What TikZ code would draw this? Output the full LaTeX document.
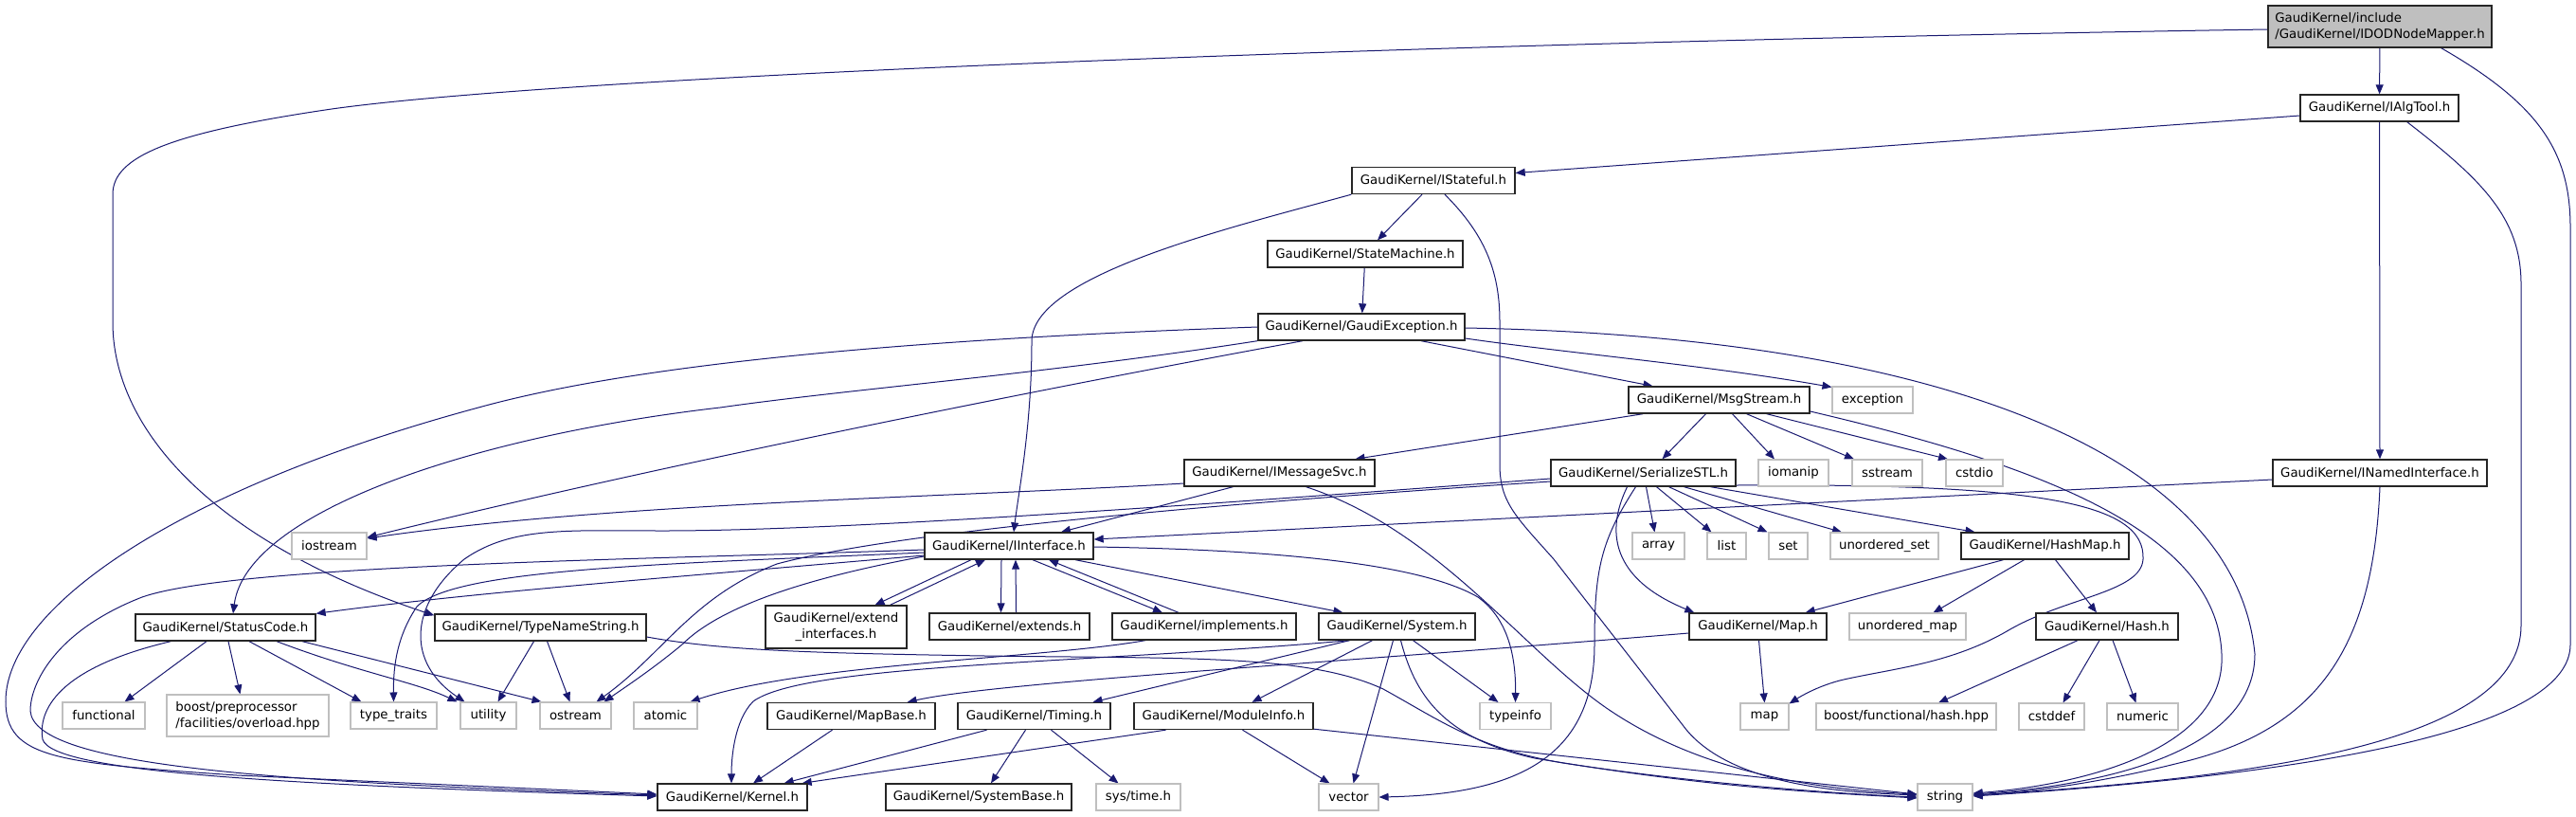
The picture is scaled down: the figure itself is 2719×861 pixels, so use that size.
\documentclass[tikz,border=0pt]{standalone}
\usepackage{fontspec}
\setmainfont{DejaVu Sans}
\usetikzlibrary{arrows.meta,calc}
\definecolor{edgeblue}{HTML}{191970}
\definecolor{greyseven}{HTML}{BFBFBF}
\pgfdeclarelayer{bg}
\pgfsetlayers{bg,main}
\begin{document}
\begin{tikzpicture}[x=0.75pt,y=-0.75pt,
  box/.style={draw=black!85, line width=1pt, fill=white, inner sep=0pt, minimum height=21pt,
    font=\fontsize{10pt}{12.5pt}\selectfont, text=black},
  ext/.style={box, draw=greyseven, line width=0.8pt},
  rootbox/.style={box, fill=greyseven},
  bw/.style={minimum width={#1*0.75pt}},
  two/.style={minimum height=33pt, align=left},
  dep/.style={draw=edgeblue, line width=0.75pt, -{Triangle[length=7.5pt,width=6pt]}},
]
\useasboundingbox (0,0) rectangle (2719,861);
% ---------- nodes ----------
\node[rootbox,two,bw=236] (root) at (2512,28) {GaudiKernel/include\\/GaudiKernel/IDODNodeMapper.h};
\node[box,bw=167] (ialgtool) at (2511.5,114) {GaudiKernel/IAlgTool.h};
\node[box,bw=172] (istateful) at (1513,190.5) {GaudiKernel/IStateful.h};
\node[box,bw=206] (statemachine) at (1441,268) {GaudiKernel/StateMachine.h};
\node[box,bw=218] (gexc) at (1437,345) {GaudiKernel/GaudiException.h};
\node[box,bw=191] (msgstream) at (1814.5,422) {GaudiKernel/MsgStream.h};
\node[ext,bw=85] (exception) at (1976.5,422) {exception};
\node[box,bw=201] (imessagesvc) at (1350.5,499) {GaudiKernel/IMessageSvc.h};
\node[box,bw=195] (serializestl) at (1734.5,499) {GaudiKernel/SerializeSTL.h};
\node[ext,bw=74] (iomanip) at (1893,499) {iomanip};
\node[ext,bw=74] (sstream) at (1992,499) {sstream};
\node[ext,bw=60] (cstdio) at (2084,499) {cstdio};
\node[box,bw=226] (inamed) at (2512,499) {GaudiKernel/INamedInterface.h};
\node[ext,bw=79] (iostream) at (347.5,576) {iostream};
\node[box,bw=178] (iinterface) at (1065,576) {GaudiKernel/IInterface.h};
\node[ext,bw=55] (array) at (1750.5,576) {array};
\node[ext,bw=41] (list) at (1822.5,576) {list};
\node[ext,bw=41] (set) at (1887.5,576) {set};
\node[ext,bw=114] (uset) at (1989,576) {unordered\_set};
\node[box,bw=177] (hashmap) at (2158.5,576) {GaudiKernel/HashMap.h};
\node[box,bw=190] (statuscode) at (238,662) {GaudiKernel/StatusCode.h};
\node[box,bw=223] (typename) at (570.5,662) {GaudiKernel/TypeNameString.h};
\node[box,bw=149,minimum height=33.75pt,align=center] (extendif) at (882.5,661.5) {GaudiKernel/extend\\\_interfaces.h};
\node[box,bw=169] (extends) at (1065.5,661) {GaudiKernel/extends.h};
\node[box,bw=194] (implements) at (1271,661) {GaudiKernel/implements.h};
\node[box,bw=165] (system) at (1474.5,661) {GaudiKernel/System.h};
\node[box,bw=145] (maph) at (1855.5,661) {GaudiKernel/Map.h};
\node[ext,bw=123] (umap) at (2013.5,661) {unordered\_map};
\node[box,bw=150] (hash) at (2224,661) {GaudiKernel/Hash.h};
\node[ext,bw=87] (functional) at (109.5,755) {functional};
\node[ext,two,bw=171] (boostpp) at (261.5,755) {boost/preprocessor\\/facilities/overload.hpp};
\node[ext,bw=91] (typetraits) at (415.5,755) {type\_traits};
\node[ext,bw=59] (utility) at (515.5,755) {utility};
\node[ext,bw=75] (ostream) at (607.5,755) {ostream};
\node[ext,bw=67] (atomic) at (702.5,755) {atomic};
\node[box,bw=177] (mapbase) at (898.5,755.5) {GaudiKernel/MapBase.h};
\node[box,bw=161] (timing) at (1091.5,755.5) {GaudiKernel/Timing.h};
\node[box,bw=189] (moduleinfo) at (1291.5,755.5) {GaudiKernel/ModuleInfo.h};
\node[ext,bw=75] (typeinfo) at (1599.5,755.5) {typeinfo};
\node[ext,bw=51] (map) at (1862.5,756) {map};
\node[ext,bw=190] (boosthash) at (2012,756) {boost/functional/hash.hpp};
\node[ext,bw=69] (cstddef) at (2165.5,756) {cstddef};
\node[ext,bw=75] (numeric) at (2261.5,756) {numeric};
\node[box,bw=158] (kernel) at (773,841) {GaudiKernel/Kernel.h};
\node[box,bw=196] (systembase) at (1033,841) {GaudiKernel/SystemBase.h};
\node[ext,bw=89] (systime) at (1201.5,841) {sys/time.h};
\node[ext,bw=63] (vector) at (1423.5,841) {vector};
\node[ext,bw=58] (string) at (2053,841) {string};
% ---------- edges ----------
\begin{pgfonlayer}{bg}
% root
\draw[dep] (root) -- (ialgtool);
\draw[dep] ($(root.west)+(0,3)$) .. controls (1500,45) and (600,80) .. (350,115) .. controls (180,140) and (119,165) .. (119,205) -- (119,340) .. controls (119,450) and (220,570) .. ($(typename.north west)+(0,2)$);
\draw[dep] ($(root.south east)+(-54,0)$) .. controls (2680,110) and (2713,160) .. (2713,240) -- (2713,680) .. controls (2713,750) and (2550,810) .. ($(string.east)+(0,-1)$);
% ialgtool
\draw[dep] ($(ialgtool.west)+(0,8)$) -- ($(istateful.east)+(0,-8)$);
\draw[dep] (ialgtool) -- (inamed);
\draw[dep] ($(ialgtool.south east)+(-55,0)$) .. controls (2620,190) and (2661,230) .. (2661,300) -- (2661,660) .. controls (2661,780) and (2400,820) .. ($(string.east)+(0,-2)$);
% istateful
\draw[dep] ($(istateful.south)+(-12,0)$) -- ($(statemachine.north)+(13,0)$);
\draw[dep] (istateful.south west) .. controls (1300,240) and (1089,290) .. (1089,360) .. controls (1089,450) and (1075,520) .. ($(iinterface.north)+(5,0)$);
\draw[dep] ($(istateful.south)+(12,0)$) .. controls (1570,250) and (1583,290) .. (1583,340) -- (1583,490) .. controls (1583,530) and (1600,545) .. (1640,590) -- (1780,770) .. controls (1830,830) and (1950,836) .. ($(string.west)+(0,-2)$);
% statemachine
\draw[dep] (statemachine) -- (gexc);
% gaudi exception
\draw[dep] ($(gexc.south)+(63,0)$) -- ($(msgstream.north)+(-70,0)$);
\draw[dep] ($(gexc.east)+(0,12)$) .. controls (1650,372) and (1800,385) .. ($(exception.north west)+(0,1)$);
\draw[dep] ($(gexc.east)+(0,1)$) .. controls (2050,355) and (2360,480) .. (2380,690) .. controls (2380,800) and (2200,830) .. ($(string.east)+(0,-3)$);
\draw[dep] (gexc.west) .. controls (900,360) and (650,390) .. (505,430) .. controls (190,515) and (6,640) .. (6,740) .. controls (6,800) and (60,805) .. (250,818) -- ($(kernel.west)+(0,-3)$);
\draw[dep] ($(gexc.south)+(-62,0)$) .. controls (1100,410) and (700,490) .. ($(iostream.east)+(0,-9)$);
\draw[dep] (gexc.south west) .. controls (1100,395) and (900,410) .. (760,430) .. controls (500,460) and (260,540) .. ($(statuscode.north)+(8,0)$);
% msgstream
\draw[dep] ($(msgstream.south west)+(16,0)$) -- ($(imessagesvc.north)+(80,0)$);
\draw[dep] ($(msgstream.south)+(-14,0)$) -- ($(serializestl.north)+(20,0)$);
\draw[dep] ($(msgstream.south)+(14,0)$) -- ($(iomanip.north)+(-20,0)$);
\draw[dep] ($(msgstream.south)+(29,0)$) -- ($(sstream.north)+(-35,0)$);
\draw[dep] ($(msgstream.south)+(50,0)$) -- ($(cstdio.north)+(-28,0)$);
\draw[dep] ($(msgstream.east)+(0,12)$) .. controls (2150,490) and (2340,560) .. (2345,690) .. controls (2350,790) and (2200,828) .. ($(string.east)+(0,-4)$);
% imessagesvc
\draw[dep] ($(imessagesvc.west)+(0,11)$) .. controls (1000,525) and (650,530) .. ($(iostream.east)+(0,-8)$);
\draw[dep] ($(imessagesvc.south)+(-49,0)$) -- ($(iinterface.north)+(55,0)$);
\draw[dep] ($(imessagesvc.south)+(28,0)$) .. controls (1520,560) and (1610,690) .. (1700,750) .. controls (1790,810) and (1900,832) .. ($(string.west)+(0,-3)$);
% serializestl
\draw[dep] ($(serializestl.south)+(3,0)$) -- ($(array.north)+(-4,0)$);
\draw[dep] ($(serializestl.south)+(14,0)$) -- ($(list.north)+(-16,0)$);
\draw[dep] ($(serializestl.south)+(27,0)$) -- ($(set.north)+(-22,0)$);
\draw[dep] ($(serializestl.south)+(43,0)$) -- ($(uset.north)+(-45,0)$);
\draw[dep] ($(serializestl.south)+(71,0)$) -- ($(hashmap.north)+(-74,0)$);
\draw[dep] ($(serializestl.east)+(0,13)$) .. controls (2150,510) and (2265,530) .. (2262,590) .. controls (2260,625) and (2180,630) .. (2120,665) .. controls (2060,700) and (2000,705) .. (1946,717) .. controls (1920,723) and (1900,735) .. ($(map.north east)+(0,1)$);
\draw[dep] ($(serializestl.south)+(-17,0)$) .. controls (1695,560) and (1700,610) .. ($(maph.north west)+(6,0)$);
\draw[dep] ($(serializestl.south)+(-8,0)$) .. controls (1690,570) and (1683,600) .. (1683,680) .. controls (1683,800) and (1600,838) .. (vector.east);
\draw[dep] ($(serializestl.west)+(0,9)$) .. controls (1300,530) and (950,560) .. (820,595) .. controls (730,630) and (700,690) .. ($(ostream.north)+(22,0)$);
\draw[dep] ($(serializestl.west)+(0,6)$) .. controls (1300,530) and (900,560) .. (700,560) .. controls (600,560) and (540,555) .. (490,590) .. controls (430,640) and (430,700) .. ($(utility.north)+(-25,0)$);
% iinterface
\draw[dep] ($(iinterface.west)+(0,4)$) .. controls (700,590) and (250,595) .. (150,630) .. controls (60,665) and (32,720) .. (32,750) .. controls (36,810) and (300,825) .. ($(kernel.west)+(0,-2)$);
\draw[dep] ($(iinterface.west)+(0,10)$) .. controls (700,610) and (500,625) .. (statuscode.north east);
\draw[dep] ($(iinterface.west)+(0,7)$) .. controls (700,595) and (480,600) .. (440,640) .. controls (420,670) and (415,700) .. (typetraits.north);
\draw[dep] ($(iinterface.west)+(0,11)$) .. controls (850,610) and (760,640) .. (720,680) .. controls (690,705) and (660,725) .. ($(ostream.north)+(30,0)$);
\draw[dep] ($(iinterface.south)+(-40,0)$) -- ($(extendif.north)+(41,0)$);
\draw[dep] ($(extendif.north)+(57,0)$) -- ($(iinterface.south)+(-25,0)$);
\draw[dep] ($(iinterface.south)+(-8,0)$) -- ($(extends.north)+(-9,0)$);
\draw[dep] ($(extends.north)+(7,0)$) -- ($(iinterface.south)+(7,0)$);
\draw[dep] ($(iinterface.south)+(25,0)$) -- ($(implements.north)+(-44,0)$);
\draw[dep] ($(implements.north)+(-27,0)$) -- ($(iinterface.south)+(42,0)$);
\draw[dep] ($(iinterface.south)+(70,0)$) -- ($(system.north)+(-57,0)$);
\draw[dep] ($(iinterface.east)+(0,1)$) .. controls (1350,580) and (1500,595) .. (1560,630) .. controls (1595,655) and (1600,700) .. (typeinfo.north);
% inamed
\draw[dep] ($(inamed.west)+(0,7)$) -- ($(iinterface.east)+(0,-7)$);
\draw[dep] (inamed.south) .. controls (2505,680) and (2450,770) .. (2300,805) .. controls (2220,825) and (2150,835) .. ($(string.east)+(0,-2)$);
% hashmap, hash, map
\draw[dep] ($(hashmap.south)+(-44,0)$) -- ($(maph.north east)+(-23,0)$);
\draw[dep] ($(hashmap.south)+(-22,0)$) -- ($(umap.north)+(27,0)$);
\draw[dep] ($(hashmap.south)+(11,0)$) -- ($(hash.north)+(-11,0)$);
\draw[dep] ($(hash.south)+(-31,0)$) -- ($(boosthash.north)+(34,0)$);
\draw[dep] ($(hash.south)+(-8,0)$) -- ($(cstddef.north)+(12,0)$);
\draw[dep] ($(hash.south)+(6,0)$) -- ($(numeric.north)+(-7,0)$);
\draw[dep] ($(maph.south)+(1,0)$) -- (map.north);
\draw[dep] ($(maph.west)+(0,7)$) .. controls (1400,700) and (1050,720) .. ($(mapbase.north east)+(-30,0)$);
% statuscode
\draw[dep] ($(statuscode.south)+(-20,0)$) -- ($(functional.north)+(22,0)$);
\draw[dep] ($(statuscode.south)+(3,0)$) -- ($(boostpp.north)+(-8,0)$);
\draw[dep] ($(statuscode.south)+(25,0)$) -- ($(typetraits.north)+(-34,0)$);
\draw[dep] ($(statuscode.south)+(54,0)$) .. controls (380,710) and (440,720) .. ($(utility.north)+(-33,0)$);
\draw[dep] ($(statuscode.south)+(81,0)$) -- ($(ostream.north)+(-36,0)$);
\draw[dep] ($(statuscode.south west)+(38,0)$) .. controls (60,705) and (40,750) .. (45,780) .. controls (55,815) and (300,828) .. ($(kernel.west)+(0,-1)$);
% typenamestring
\draw[dep] ($(typename.south)+(-7,0)$) -- ($(utility.north)+(10,0)$);
\draw[dep] ($(typename.south)+(7,0)$) -- ($(ostream.north)+(-6,0)$);
\draw[dep] ($(typename.east)+(0,10)$) .. controls (760,686) and (850,689) .. (1040,692) .. controls (1250,695) and (1380,690) .. (1460,727) .. controls (1520,760) and (1560,790) .. (1650,805) .. controls (1800,828) and (1950,838) .. (string.west);
% implements
\draw[dep] ($(implements.south)+(-62,0)$) .. controls (1100,695) and (850,700) .. ($(atomic.north east)+(-8,0)$);
% system
\draw[dep] ($(system.south)+(-50,0)$) .. controls (1150,700) and (850,700) .. (795,740) .. controls (775,760) and (772,800) .. ($(kernel.north)+(-1,0)$);
\draw[dep] ($(system.south)+(-50,0)$) -- ($(timing.north)+(62,0)$);
\draw[dep] ($(system.south)+(-26,0)$) -- ($(moduleinfo.north)+(30,0)$);
\draw[dep] ($(system.south)+(-4,0)$) -- ($(vector.north)+(5,0)$);
\draw[dep] ($(system.south)+(17,0)$) -- ($(typeinfo.north)+(-18,0)$);
\draw[dep] ($(system.south)+(4,0)$) .. controls (1495,740) and (1530,780) .. (1620,800) .. controls (1800,830) and (1900,835) .. ($(string.west)+(0,1)$);
% moduleinfo
\draw[dep] ($(moduleinfo.south)+(20,0)$) -- ($(vector.north)+(-20,0)$);
\draw[dep] ($(moduleinfo.south east)+(0,-1)$) -- ($(string.west)+(0,-3)$);
\draw[dep] ($(moduleinfo.south)+(-61,0)$) -- ($(kernel.north east)+(-6,0)$);
% timing
\draw[dep] ($(timing.south)+(-50,0)$) -- ($(kernel.north east)+(-25,0)$);
\draw[dep] ($(timing.south)+(-9,0)$) -- ($(systembase.north)+(13,0)$);
\draw[dep] ($(timing.south)+(18,0)$) -- ($(systime.north)+(-21,0)$);
% mapbase
\draw[dep] ($(mapbase.south)+(-20,0)$) -- ($(kernel.north)+(22,0)$);
\end{pgfonlayer}
\end{tikzpicture}
\end{document}
